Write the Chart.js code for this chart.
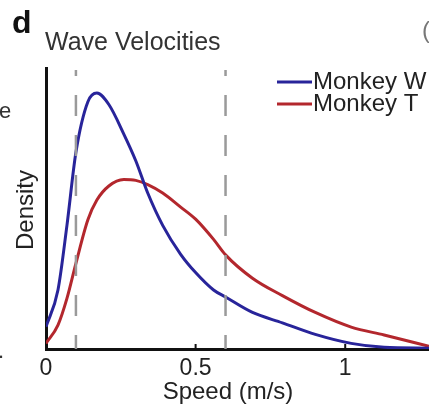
<!DOCTYPE html>
<html>
<head>
<meta charset="utf-8">
<script src="https://cdn.jsdelivr.net/npm/chart.js@4/dist/chart.umd.min.js"></script>
<style>
  html, body { margin: 0; padding: 0; background: #fff; }
  #wrap { width: 429px; height: 406px; position: relative; }
</style>
</head>
<body>
<div id="wrap"><canvas id="waveChart" width="429" height="406"></canvas></div>
<script>
// Wave velocity density curves (density in arbitrary units)
const speeds = [0, 0.04, 0.07, 0.1, 0.14, 0.17, 0.21, 0.26, 0.3, 0.34, 0.39, 0.45, 0.5, 0.56, 0.6, 0.69, 0.79, 0.9, 1.02, 1.13, 1.28]
const monkeyW = [0.079, 0.21, 0.44, 0.70, 0.88, 0.911, 0.87, 0.765, 0.67, 0.555, 0.44, 0.337, 0.272, 0.21, 0.185, 0.13, 0.093, 0.052, 0.02, 0.006, 0.003]
const monkeyT = [0.02, 0.085, 0.18, 0.305, 0.46, 0.53, 0.58, 0.603, 0.6, 0.585, 0.555, 0.505, 0.462, 0.39, 0.335, 0.252, 0.19, 0.13, 0.078, 0.05, 0.01]
const seriesNames = ["Monkey W", "Monkey T"]
const markerSpeeds = [0.1, 0.6]
const xTicks = [0, 0.5, 1]

const FONT = "'Liberation Sans', Arial, Helvetica, sans-serif"
const BLUE = "#28249a"
const RED = "#b3272d"
const DASH_GRAY = "#9a9a9a"

function toPoints(xs, ys) {
  return xs.map((x, i) => ({ x: x, y: ys[i] }))
}

// vertical dashed reference lines, drawn as two-point datasets
const markerSets = markerSpeeds.map((s) => ({
  data: [{ x: s, y: 0.993 }, { x: s, y: 0 }],
  borderColor: DASH_GRAY,
  borderWidth: 2.5,
  borderDash: [21, 19],
  borderDashOffset: 15,
  pointRadius: 0,
  tension: 0,
}))

// text, legend and inward ticks
const decorations = {
  id: "decorations",
  afterDatasetsDraw(chart) {
    const ctx = chart.ctx
    const x = chart.scales.x
    const area = chart.chartArea
    ctx.save()

    // small inward tick marks
    ctx.strokeStyle = "#111"
    ctx.lineWidth = 2
    xTicks.slice(1).forEach((v) => {
      const px = x.getPixelForValue(v)
      ctx.beginPath()
      ctx.moveTo(px, area.bottom)
      ctx.lineTo(px, area.bottom - 5)
      ctx.stroke()
    })

    // legend
    const colors = [BLUE, RED]
    const baselines = [89, 111]
    ctx.font = "24px " + FONT
    ctx.textBaseline = "alphabetic"
    ctx.textAlign = "left"
    seriesNames.forEach((name, i) => {
      ctx.strokeStyle = colors[i]
      ctx.lineWidth = 3
      ctx.beginPath()
      ctx.moveTo(277, baselines[i] - 7)
      ctx.lineTo(312, baselines[i] - 7)
      ctx.stroke()
      ctx.fillStyle = "#222"
      ctx.fillText(name, 313, baselines[i])
    })

    // panel letter and title
    ctx.fillStyle = "#111"
    ctx.font = "bold 32px " + FONT
    ctx.fillText("d", 12, 33)
    ctx.fillStyle = "#333"
    ctx.font = "25px " + FONT
    ctx.fillText("Wave Velocities", 45, 50)

    // axis title
    ctx.fillStyle = "#222"
    ctx.font = "24px " + FONT
    ctx.textAlign = "center"
    ctx.fillText("Speed (m/s)", 228, 399)

    ctx.save()
    ctx.translate(33, 210)
    ctx.rotate(-Math.PI / 2)
    ctx.font = "24px " + FONT
    ctx.fillText("Density", 0, 0)
    ctx.restore()

    // bits of neighbouring panels
    ctx.textAlign = "left"
    ctx.fillStyle = "#333"
    ctx.font = "22px " + FONT
    ctx.fillText("e", -1, 118)
    ctx.fillText(".", -2, 358)
    ctx.fillStyle = "#777"
    ctx.font = "24px " + FONT
    ctx.fillText("(", 422, 38)

    ctx.restore()
  },
}

const ctx = document.getElementById("waveChart")
new Chart(ctx, {
  type: "line",
  data: {
    datasets: [
      ...markerSets,
      {
        label: seriesNames[0],
        data: toPoints(speeds, monkeyW),
        borderColor: BLUE,
        borderWidth: 3,
        pointRadius: 0,
        cubicInterpolationMode: "monotone",
      },
      {
        label: seriesNames[1],
        data: toPoints(speeds, monkeyT),
        borderColor: RED,
        borderWidth: 3,
        pointRadius: 0,
        cubicInterpolationMode: "monotone",
      },
    ],
  },
  options: {
    responsive: false,
    animation: false,
    events: [],
    layout: { padding: { top: 68, left: 0, right: 0, bottom: 0 } },
    plugins: {
      legend: { display: false },
      tooltip: { enabled: false },
    },
    scales: {
      x: {
        type: "linear",
        min: 0,
        max: 1.28,
        afterBuildTicks: (scale) => {
          scale.ticks = xTicks.map((v) => ({ value: v }))
        },
        afterFit: (scale) => {
          scale.height = 57
        },
        grid: { display: false, drawTicks: false },
        border: { color: "#111", width: 3 },
        ticks: {
          padding: 6,
          color: "#222",
          font: { family: FONT, size: 23 },
          maxRotation: 0,
          callback: (v) => String(v),
        },
      },
      y: {
        min: 0,
        max: 1,
        afterFit: (scale) => {
          scale.width = 46
        },
        grid: { display: false, drawTicks: false },
        border: { color: "#111", width: 3 },
        ticks: { display: false },
      },
    },
  },
  plugins: [decorations],
})
</script>
</body>
</html>
